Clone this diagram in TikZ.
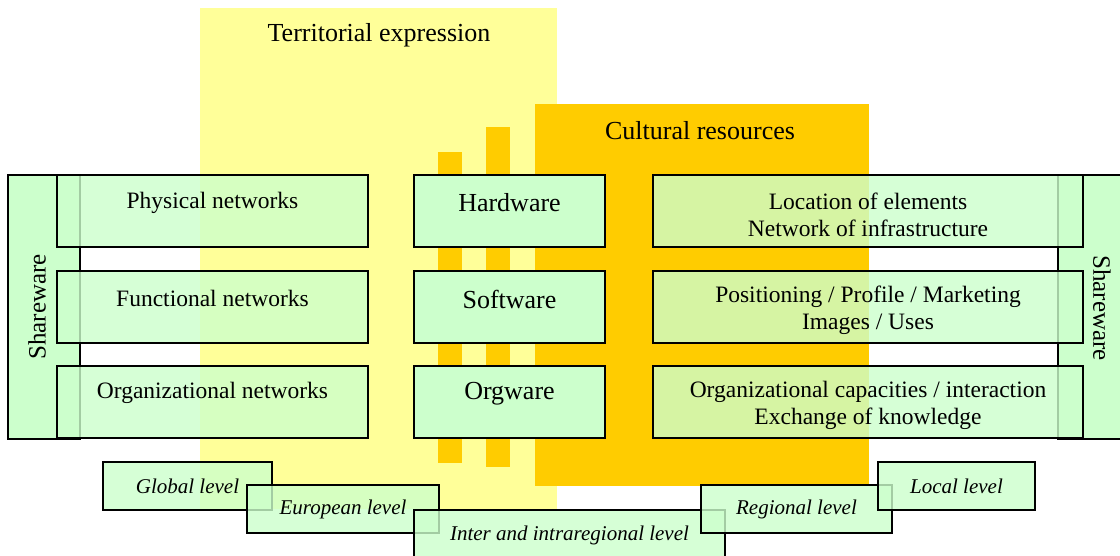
\documentclass[tikz,border=0pt]{standalone}
\usepackage{fontspec}
\setmainfont{Liberation Serif}
\begin{document}
\begin{tikzpicture}[x=1pt,y=-1pt,
  sharebox/.style={draw=black,line width=1.1pt,fill=greenbox,inner sep=0pt,anchor=center},
  sidebox/.style={draw=black,line width=1.4pt,fill=greenbox,fill opacity=0.8,text opacity=1,inner sep=0pt,anchor=center,minimum height=72pt,font=\fontsize{23.5}{27}\selectfont},
  midbox/.style={draw=black,line width=1.4pt,fill=greenbox,inner sep=0pt,anchor=center,minimum width=191pt,minimum height=72pt,font=\fontsize{26}{30}\selectfont},
  levelbox/.style={draw=black,line width=1.4pt,fill=greenbox,fill opacity=0.8,text opacity=1,inner sep=0pt,anchor=center,minimum height=48pt,font=\fontsize{21}{24}\selectfont\itshape},
  title/.style={font=\fontsize{26}{30}\selectfont,inner sep=0pt},
  sidetext/.style={font=\fontsize{23.5}{27}\selectfont,inner sep=0pt,align=center},
  midtext/.style={font=\fontsize{26}{30}\selectfont,inner sep=0pt},
  sharetext/.style={font=\fontsize{25}{29}\selectfont,inner sep=0pt}
]
\definecolor{yellowbg}{HTML}{FFFF99}
\definecolor{orangebg}{HTML}{FFCC00}
\definecolor{greenbox}{HTML}{CCFFCC}
\useasboundingbox (0,0) rectangle (1120,556);
% backgrounds
\fill[yellowbg] (200,8) rectangle (557,509);
\fill[orangebg] (535,104) rectangle (869,486);
\fill[orangebg] (438,152) rectangle (462,463);
\fill[orangebg] (486,127) rectangle (510,467);
\node[title] (terr) at (379,35) {Territorial expression};
\node[title] (cult) at (700,131) {Cultural resources};
% shareware frames
\node[sharebox,minimum width=72pt,minimum height=264pt] (shl) at (44,307) {};
\node[sharebox,minimum width=67pt,minimum height=264pt] (shr) at (1091.5,307) {};
\node[sharetext,rotate=90] (shlt) at (37,307) {Shareware};
\node[sharetext,rotate=-90] (shrt) at (1102,308) {Shareware};
% left boxes
\node[sidebox,minimum width=311pt] (phys) at (212.5,211) {};
\node[sidebox,minimum width=311pt] (func) at (212.5,307) {};
\node[sidebox,minimum width=311pt] (orgn) at (212.5,402) {};
\node[sidetext] (physt) at (212.5,203) {Physical networks};
\node[sidetext] (funct) at (212.5,298) {Functional networks};
\node[sidetext] (orgnt) at (212.5,393) {Organizational networks};
% middle boxes
\node[midbox] (hard) at (509.5,211) {};
\node[midbox] (soft) at (509.5,307) {};
\node[midbox] (orgw) at (509.5,402) {};
\node[midtext] (hardt) at (509.5,203) {Hardware};
\node[midtext] (softt) at (509.5,299) {Software};
\node[midtext] (orgwt) at (509.5,394) {Orgware};
% right boxes
\node[sidebox,minimum width=430pt] (loc) at (868,211) {};
\node[sidebox,minimum width=430pt] (pos) at (868,307) {};
\node[sidebox,minimum width=430pt] (cap) at (868,402) {};
\node[sidetext] (loct) at (868,214.5) {Location of elements\\Network of infrastructure};
\node[sidetext] (post) at (868,310) {Positioning / Profile / Marketing\\Images / Uses};
\node[sidetext] (capt) at (868,405) {Organizational capacities / interaction\\Exchange of knowledge};
% level boxes
\node[levelbox,minimum width=169pt] (glob) at (187.5,486) {Global level};
\node[levelbox,minimum width=192pt] (euro) at (343,509) {European level};
\node[levelbox,minimum width=311pt,minimum height=50pt] (inter) at (569.5,535) {Inter and intraregional level};
\node[levelbox,minimum width=191pt] (regi) at (796.5,509) {Regional level};
\node[levelbox,minimum width=157pt] (loca) at (956.5,486) {Local level};
\end{tikzpicture}
\end{document}
